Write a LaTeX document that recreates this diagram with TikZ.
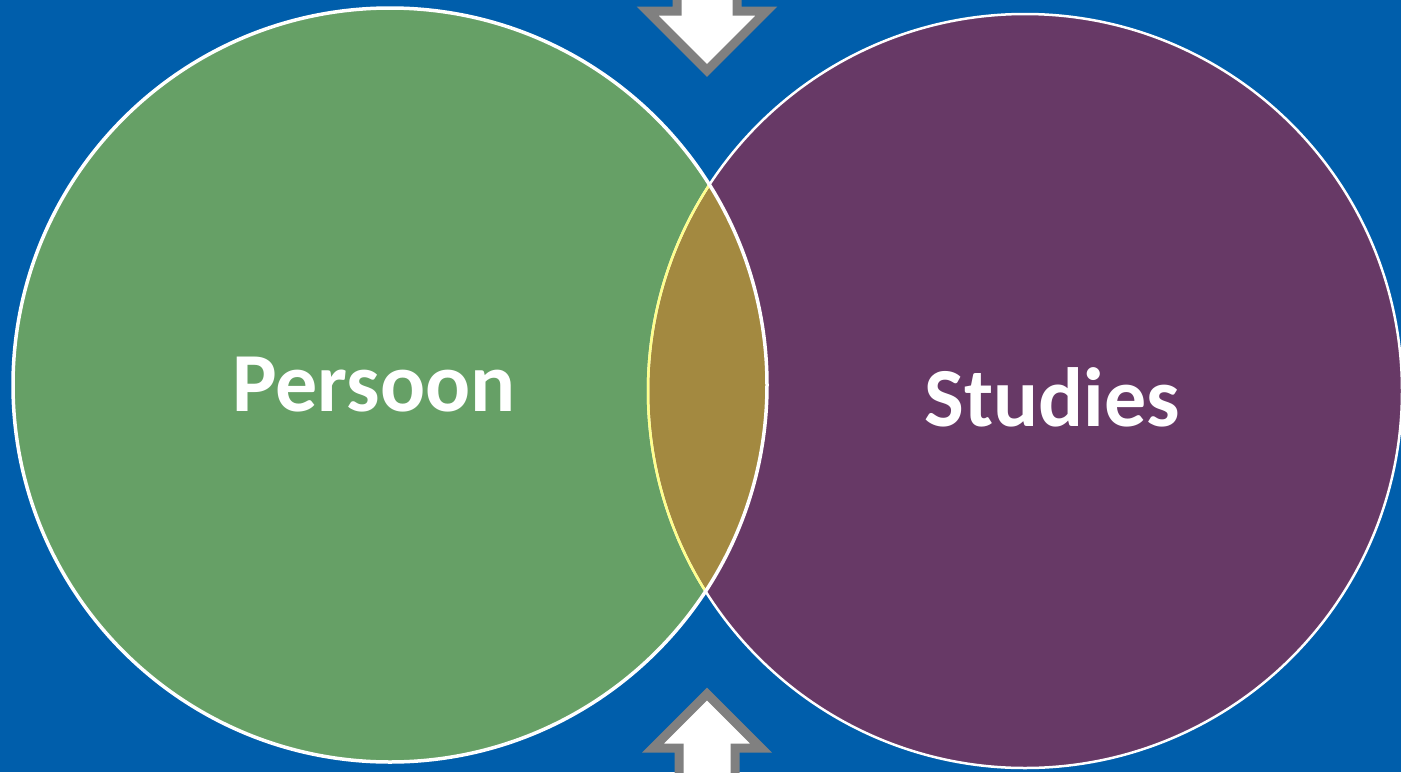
\documentclass[tikz,border=0pt]{standalone}
\usepackage{fontspec}
\setmainfont{Carlito}
\definecolor{bgblue}{RGB}{0,94,171}
\definecolor{vgreen}{RGB}{102,160,102}
\definecolor{vpurple}{RGB}{103,57,102}
\definecolor{vlens}{RGB}{163,137,64}
\definecolor{vyellow}{RGB}{255,255,140}
\definecolor{arrgray}{RGB}{128,128,128}
\tikzset{
  label text/.style={text=white, font=\bfseries\fontsize{84}{100}\selectfont, anchor=base, inner sep=0pt},
  block arrow/.style={draw=arrgray, fill=white, line width=9pt, line join=miter},
}
\begin{document}
\begin{tikzpicture}[x=1pt,y=-1pt]
\useasboundingbox (0,0) rectangle (1401,772);
\fill[bgblue] (0,0) rectangle (1401,772);
\coordinate (gc) at (390,385);
\coordinate (pc) at (1025,391);
\def\R{377}
% fills
\fill[vgreen] (gc) circle[radius=\R];
\fill[vpurple] (pc) circle[radius=\R];
\begin{scope}
  \clip (gc) circle[radius=\R];
  \fill[vlens] (pc) circle[radius=\R];
\end{scope}
% outlines
\draw[white, line width=2.5pt] (pc) circle[radius=\R];
\begin{scope}
  \clip (gc) circle[radius=\R];
  \draw[vyellow, line width=2.5pt] (pc) circle[radius=\R];
\end{scope}
\draw[white, line width=3.5pt] (gc) circle[radius=\R];
% arrows
\begin{scope}
  \clip (0,0) rectangle (1401,772);
  \draw[block arrow] (677,-20) -- (677,11) -- (647.5,11) -- (707,70.5) -- (766.5,11) -- (737,11) -- (737,-20) -- cycle;
  \draw[block arrow] (679,800) -- (679,748) -- (653,748) -- (707,694) -- (761,748) -- (735,748) -- (735,800) -- cycle;
\end{scope}
% labels
\node[label text] (persoon) at (374,411) {Persoon};
\node[label text] (studies) at (1052,426) {Studies};
\end{tikzpicture}
\end{document}
